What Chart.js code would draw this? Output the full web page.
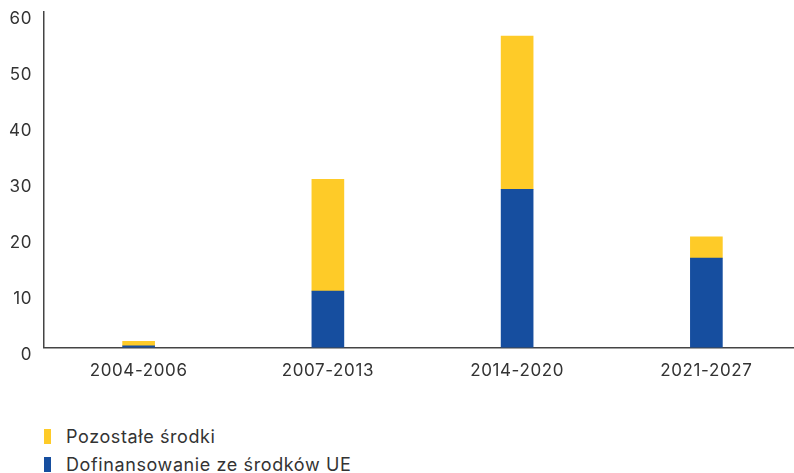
<!DOCTYPE html>
<html lang="pl">
<head>
<meta charset="utf-8">
<script src="https://cdn.jsdelivr.net/npm/chart.js@4"></script>
<style>
  html, body { margin: 0; padding: 0; background: #fff; overflow: hidden; }
  body { width: 794px; height: 473px; position: relative; font-family: Inter, "Open Sans", sans-serif; }
  .chart-wrap { position: absolute; left: 0; top: 0; width: 801px; height: 394px; }
  #legend { position: absolute; left: 44px; top: 422px; color: #333; font-size: 18px; letter-spacing: 0.6px; }
  .legend-item { display: flex; align-items: center; height: 28px; }
  .legend-box { width: 7px; height: 15px; margin-right: 15px; }
</style>
</head>
<body>
<div class="chart-wrap"><canvas id="fundsChart" width="801" height="394"></canvas></div>
<div id="legend"></div>
<script>
// Budget periods and amounts per period
const periods = ['2004-2006', '2007-2013', '2014-2020', '2021-2027'];
const euFunding = [0.3, 10.1, 28.3, 16.0];
const otherFunds = [0.8, 20.0, 27.4, 3.8];
const yTicks = [0, 10, 20, 30, 40, 50, 60];

const BLUE = '#164e9f';
const YELLOW = '#fecb28';
const TEXT = '#333333';

Chart.defaults.font.family = 'Inter, "Open Sans", sans-serif';
Chart.defaults.color = TEXT;

// wider tracking for all canvas text
const spacing = {
    id: 'spacing',
    beforeUpdate(chart) { chart.ctx.letterSpacing = '0.6px'; },
    beforeDraw(chart) { chart.ctx.letterSpacing = '0.6px'; }
};

const chart = new Chart(document.getElementById('fundsChart'), {
    type: 'bar',
    data: {
        labels: periods,
        datasets: [
            { label: 'Dofinansowanie ze środków UE', data: euFunding, backgroundColor: BLUE, barThickness: 32 },
            { label: 'Pozostałe środki', data: otherFunds, backgroundColor: YELLOW, barThickness: 32 }
        ]
    },
    plugins: [spacing],
    options: {
        responsive: false,
        animation: false,
        layout: { padding: { top: 12, left: 0, right: 0, bottom: 0 } },
        plugins: { legend: { display: false }, tooltip: { enabled: false } },
        scales: {
            x: {
                stacked: true,
                grid: { display: false, drawTicks: false },
                border: { color: '#444', width: 1.5 },
                ticks: { padding: 13, font: { size: 17 }, color: TEXT }
            },
            y: {
                stacked: true,
                min: 0,
                max: 60,
                afterBuildTicks: (s) => { s.ticks = yTicks.map(v => ({ value: v })); },
                afterFit: (s) => { s.width = 44; s.paddingTop = 0; s.paddingBottom = 0; },
                grid: { display: false, drawTicks: false },
                border: { color: '#444', width: 1.5 },
                ticks: { padding: 12, labelOffset: 7, font: { size: 17 }, color: TEXT }
            }
        }
    }
});

// Legend below the chart, listed top to bottom in reverse dataset order
const legendEl = document.getElementById('legend');
chart.data.datasets.slice().reverse().forEach(ds => {
    const item = document.createElement('div');
    item.className = 'legend-item';
    item.innerHTML = `<span class="legend-box" style="background:${ds.backgroundColor}"></span><span>${ds.label}</span>`;
    legendEl.appendChild(item);
});
</script>
</body>
</html>
